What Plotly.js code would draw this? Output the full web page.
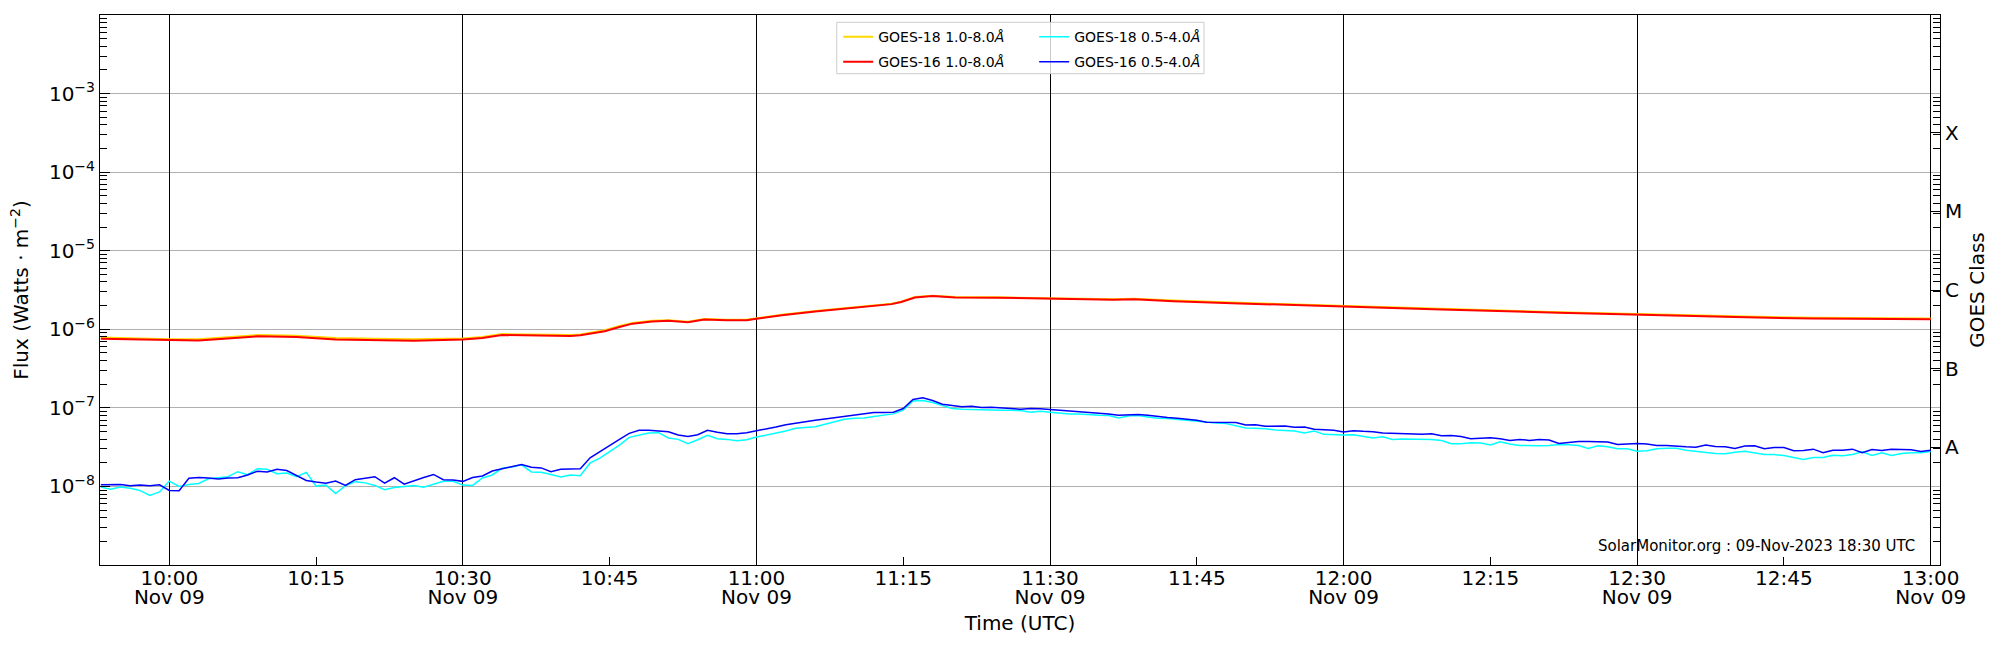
<!DOCTYPE html>
<html><head><meta charset="utf-8">
<script src="https://cdn.plot.ly/plotly-3.0.1.min.js"></script>
<style>body{margin:0;background:#fff}#chart{width:2000px;height:650px}</style>
</head><body><div id="chart"></div>
<script>
// ---- data ----
const shortStart = '2023-11-09 09:53';   // 1-minute samples for the 0.5-4.0 Å channels
const goes16Short = [
1.05e-8,1.05e-8,1.06e-8,1.02e-8,1.04e-8,1.02e-8,1.05e-8,0.89e-8,0.88e-8,1.27e-8,
1.30e-8,1.28e-8,1.24e-8,1.28e-8,1.29e-8,1.40e-8,1.56e-8,1.53e-8,1.65e-8,1.59e-8,
1.37e-8,1.19e-8,1.14e-8,1.10e-8,1.17e-8,1.03e-8,1.22e-8,1.28e-8,1.33e-8,1.10e-8,
1.29e-8,1.07e-8,1.19e-8,1.30e-8,1.42e-8,1.22e-8,1.21e-8,1.16e-8,1.30e-8,1.36e-8,
1.57e-8,1.67e-8,1.80e-8,1.90e-8,1.75e-8,1.72e-8,1.54e-8,1.65e-8,1.67e-8,1.68e-8,
2.31e-8,2.78e-8,3.36e-8,3.97e-8,4.73e-8,5.17e-8,5.17e-8,5.07e-8,4.97e-8,4.51e-8,
4.33e-8,4.55e-8,5.17e-8,4.88e-8,4.69e-8,4.69e-8,4.83e-8,5.12e-8,5.38e-8,5.71e-8,
6.11e-8,6.42e-8,6.61e-8,6.95e-8,7.23e-8,7.52e-8,7.89e-8,8.13e-8,8.54e-8,8.71e-8,
8.71e-8,8.79e-8,9.80e-8,1.28e-7,1.34e-7,1.24e-7,1.11e-7,1.06e-7,1.03e-7,1.05e-7,
1.01e-7,1.02e-7,1.01e-7,9.80e-8,9.61e-8,9.80e-8,9.71e-8,9.52e-8,9.33e-8,9.24e-8,
8.97e-8,8.88e-8,8.71e-8,8.38e-8,8.05e-8,8.21e-8,8.21e-8,8.05e-8,7.74e-8,7.52e-8,
7.37e-8,7.16e-8,6.95e-8,6.55e-8,6.49e-8,6.42e-8,6.49e-8,6.05e-8,6.11e-8,5.82e-8,
5.88e-8,5.88e-8,5.65e-8,5.71e-8,5.33e-8,5.22e-8,5.17e-8,4.92e-8,5.12e-8,5.02e-8,
4.97e-8,4.78e-8,4.73e-8,4.73e-8,4.69e-8,4.60e-8,4.69e-8,4.42e-8,4.46e-8,4.33e-8,
4.04e-8,4.13e-8,4.17e-8,4.04e-8,3.85e-8,3.97e-8,3.85e-8,3.97e-8,3.89e-8,3.52e-8,
3.63e-8,3.74e-8,3.74e-8,3.74e-8,3.67e-8,3.42e-8,3.46e-8,3.52e-8,3.46e-8,3.32e-8,
3.32e-8,3.29e-8,3.19e-8,3.16e-8,3.36e-8,3.22e-8,3.19e-8,3.04e-8,3.26e-8,3.29e-8,
3.01e-8,3.13e-8,3.13e-8,2.84e-8,2.87e-8,2.98e-8,2.68e-8,2.89e-8,2.89e-8,2.98e-8,
2.68e-8,2.95e-8,2.87e-8,2.98e-8,2.92e-8,2.92e-8,2.78e-8,2.89e-8];
const goes18Short = [
0.98e-8,0.92e-8,0.98e-8,0.95e-8,0.89e-8,0.77e-8,0.85e-8,1.17e-8,1.00e-8,1.06e-8,
1.09e-8,1.25e-8,1.29e-8,1.33e-8,1.54e-8,1.41e-8,1.68e-8,1.65e-8,1.45e-8,1.48e-8,
1.33e-8,1.51e-8,1.01e-8,1.04e-8,0.81e-8,1.02e-8,1.15e-8,1.11e-8,1.03e-8,0.91e-8,
0.97e-8,1.00e-8,1.03e-8,0.98e-8,1.07e-8,1.16e-8,1.16e-8,1.04e-8,1.03e-8,1.28e-8,
1.40e-8,1.70e-8,1.77e-8,1.88e-8,1.53e-8,1.51e-8,1.42e-8,1.32e-8,1.40e-8,1.37e-8,
1.99e-8,2.29e-8,2.78e-8,3.36e-8,4.21e-8,4.51e-8,4.78e-8,4.83e-8,4.13e-8,3.97e-8,
3.49e-8,3.93e-8,4.46e-8,4.04e-8,3.97e-8,3.81e-8,3.93e-8,4.25e-8,4.51e-8,4.69e-8,
5.07e-8,5.49e-8,5.65e-8,5.76e-8,6.17e-8,6.61e-8,7.16e-8,7.37e-8,7.44e-8,7.74e-8,
8.05e-8,8.38e-8,9.33e-8,1.22e-7,1.24e-7,1.17e-7,1.07e-7,9.80e-8,9.61e-8,9.52e-8,
9.43e-8,9.24e-8,9.33e-8,9.33e-8,9.24e-8,8.79e-8,9.06e-8,8.80e-8,8.54e-8,8.38e-8,
8.38e-8,8.13e-8,8.05e-8,7.97e-8,7.44e-8,7.89e-8,7.97e-8,7.67e-8,7.37e-8,7.30e-8,
7.09e-8,6.88e-8,6.75e-8,6.61e-8,6.42e-8,6.30e-8,5.88e-8,5.54e-8,5.49e-8,5.43e-8,
5.22e-8,5.12e-8,5.07e-8,4.78e-8,5.07e-8,4.60e-8,4.55e-8,4.51e-8,4.55e-8,4.33e-8,
4.13e-8,4.29e-8,3.97e-8,4.00e-8,4.00e-8,4.00e-8,3.97e-8,3.85e-8,3.49e-8,3.49e-8,
3.59e-8,3.56e-8,3.36e-8,3.70e-8,3.46e-8,3.32e-8,3.29e-8,3.29e-8,3.32e-8,3.42e-8,
3.39e-8,3.32e-8,3.04e-8,3.29e-8,3.19e-8,3.01e-8,3.01e-8,2.81e-8,2.84e-8,3.01e-8,
3.07e-8,3.07e-8,2.89e-8,2.81e-8,2.68e-8,2.62e-8,2.60e-8,2.73e-8,2.80e-8,2.68e-8,
2.55e-8,2.55e-8,2.47e-8,2.33e-8,2.20e-8,2.33e-8,2.33e-8,2.50e-8,2.45e-8,2.55e-8,
2.76e-8,2.47e-8,2.68e-8,2.47e-8,2.62e-8,2.68e-8,2.68e-8,2.78e-8];

const longTimes = ['09:53:00','10:00:00','10:03:00','10:09:00','10:13:00','10:17:00','10:21:00','10:25:00',
 '10:30:00','10:32:00','10:34:00','10:38:00','10:41:00','10:42:00','10:44:30','10:46:00','10:47:20',
 '10:49:20','10:51:00','10:53:00','10:54:40','10:57:00','10:59:00','11:00:00','11:02:36','11:06:00',
 '11:09:24','11:13:48','11:14:48','11:16:12','11:18:00','11:20:18','11:24:42','11:28:30','11:30:00',
 '11:36:30','11:38:36','11:42:36','11:49:24','12:00:00','12:10:00','12:22:00','12:30:00','12:40:00',
 '12:48:00','13:00:00'];
const goes16Long = [7.58e-7,7.22e-7,7.22e-7,8.13e-7,7.96e-7,7.44e-7,7.29e-7,7.15e-7,
 7.44e-7,7.73e-7,8.45e-7,8.29e-7,8.21e-7,8.37e-7,9.42e-7,1.07e-6,1.18e-6,
 1.26e-6,1.28e-6,1.23e-6,1.33e-6,1.30e-6,1.30e-6,1.36e-6,1.51e-6,1.68e-6,
 1.86e-6,2.09e-6,2.22e-6,2.54e-6,2.65e-6,2.54e-6,2.52e-6,2.47e-6,2.45e-6,
 2.38e-6,2.42e-6,2.28e-6,2.13e-6,1.93e-6,1.79e-6,1.62e-6,1.52e-6,1.43e-6,
 1.37e-6,1.34e-6];
const goes18Long = [7.85e-7,7.45e-7,7.45e-7,8.45e-7,8.25e-7,7.75e-7,7.60e-7,7.45e-7,
 7.65e-7,7.95e-7,8.70e-7,8.55e-7,8.45e-7,8.60e-7,9.70e-7,1.10e-6,1.20e-6,
 1.28e-6,1.30e-6,1.25e-6,1.35e-6,1.32e-6,1.32e-6,1.38e-6,1.53e-6,1.71e-6,
 1.89e-6,2.12e-6,2.25e-6,2.57e-6,2.68e-6,2.57e-6,2.55e-6,2.50e-6,2.48e-6,
 2.41e-6,2.45e-6,2.32e-6,2.17e-6,1.97e-6,1.82e-6,1.65e-6,1.55e-6,1.46e-6,
 1.40e-6,1.37e-6];

const xTickTimes = ['10:00','10:15','10:30','10:45','11:00','11:15','11:30','11:45','12:00','12:15','12:30','12:45','13:00'];
const dateTickTimes = ['10:00','10:30','11:00','11:30','12:00','12:30','13:00'];
const dateLabel = 'Nov 09';
const yTickPowers = [-8,-7,-6,-5,-4,-3];
const classLabels = ['A','B','C','M','X'];
const classFlux = [3.16e-8,3.16e-7,3.16e-6,3.16e-5,3.16e-4];
const day = '2023-11-09 ';

// ---- build ----
function pad(n){return (n<10?'0':'')+n;}
const shortTimes = goes16Short.map((_,i)=>{
  const base = 9*60+53 + i;
  return day + pad(Math.floor(base/60)) + ':' + pad(base%60);
});
const longX = longTimes.map(t=>day+t);

const minorVals = [];
for (let e=-9; e<-2; e++) for (let m=2; m<=9; m++) minorVals.push(m*Math.pow(10,e));

const FONT = 'DejaVu Sans';
const xRange = [day+'09:52:55', day+'13:00:57'];
const yRange = [-9,-2];

const traces = [
 {x:longX, y:goes18Long, name:'GOES-18 1.0-8.0<i>Å</i>', mode:'lines', line:{color:'#FFD700',width:2}, legend:'legend', legendgroup:'a'},
 {x:longX, y:goes16Long, name:'GOES-16 1.0-8.0<i>Å</i>', mode:'lines', line:{color:'#FF0000',width:2}, legend:'legend', legendgroup:'b'},
 {x:shortTimes, y:goes18Short, name:'GOES-18 0.5-4.0<i>Å</i>', mode:'lines', line:{color:'#00FFFF',width:1.5}, legend:'legend2', legendgroup:'c'},
 {x:shortTimes, y:goes16Short, name:'GOES-16 0.5-4.0<i>Å</i>', mode:'lines', line:{color:'#0000FF',width:1.5}, legend:'legend2', legendgroup:'d'},
 {x:[], y:[], xaxis:'x2', yaxis:'y', showlegend:false, hoverinfo:'skip'},
 {x:[], y:[], xaxis:'x', yaxis:'y2', showlegend:false, hoverinfo:'skip'}
];

const legendCommon = {bgcolor:'rgba(0,0,0,0)', borderwidth:0, font:{family:FONT,size:14,color:'#000'},
  xanchor:'left', yanchor:'top', orientation:'v', tracegroupgap:4, itemwidth:30};

const layout = {
  width:2000, height:650,
  margin:{l:100, r:60, t:15, b:85, pad:0},
  paper_bgcolor:'#fff', plot_bgcolor:'#fff',
  font:{family:FONT, size:20, color:'#000'},
  showlegend:true,
  legend:Object.assign({x:0.4012, y:0.989}, legendCommon),
  legend2:Object.assign({x:0.5077, y:0.989}, legendCommon),
  xaxis:{type:'date', range:xRange, tickmode:'array',
    tickvals:xTickTimes.map(t=>day+t), ticktext:xTickTimes,
    ticks:'inside', ticklen:8, tickwidth:1, tickcolor:'#000',
    showgrid:false, zeroline:false, showline:true, linecolor:'#000', linewidth:1, mirror:true,
    ticklabelstandoff:-5,
    tickfont:{family:FONT,size:20,color:'#000'},
    title:{text:'Time (UTC)', font:{family:FONT,size:20,color:'#000'}, standoff:26}},
  xaxis2:{type:'date', range:xRange, overlaying:'x', side:'bottom', tickmode:'array',
    tickvals:dateTickTimes.map(t=>day+t), ticktext:dateTickTimes.map(()=>dateLabel),
    ticks:'', showgrid:true, gridcolor:'#000', gridwidth:1, zeroline:false, showline:false,
    ticklabelstandoff:18,
    tickfont:{family:FONT,size:20,color:'#000'}},
  yaxis:{type:'log', range:yRange, tickmode:'array',
    tickvals:yTickPowers.map(p=>Math.pow(10,p)),
    ticktext:yTickPowers.map(p=>'10<sup>−'+Math.abs(p)+'</sup>'),
    ticks:'inside', ticklen:10, tickwidth:1, tickcolor:'#000',
    minor:{tickmode:'array', tickvals:minorVals, ticks:'inside', ticklen:7, tickwidth:1, tickcolor:'#000', showgrid:false},
    showgrid:true, gridcolor:'#b0b0b0', gridwidth:1, zeroline:false,
    showline:true, linecolor:'#000', linewidth:1, mirror:true,
    tickfont:{family:FONT,size:20,color:'#000'},
    title:{text:'Flux (Watts · m<sup>−2</sup>)', font:{family:FONT,size:20,color:'#000'}, standoff:14}},
  yaxis2:{type:'log', range:yRange, overlaying:'y', side:'right', tickmode:'array',
    tickvals:classFlux, ticktext:classLabels,
    ticks:'inside', ticklen:10, tickwidth:1, tickcolor:'#000',
    minor:{tickmode:'array', tickvals:minorVals, ticks:'inside', ticklen:7, tickwidth:1, tickcolor:'#000', showgrid:false},
    showgrid:false, zeroline:false, showline:false,
    ticklabelstandoff:4,
    tickfont:{family:FONT,size:20,color:'#000'},
    title:{text:'GOES Class', font:{family:FONT,size:20,color:'#000'}, standoff:8}},
  shapes:[
    {type:'rect', xref:'paper', yref:'paper', x0:0.4004, x1:0.6, y0:0.8933, y1:0.9867,
     fillcolor:'rgba(255,255,255,0.8)', line:{color:'#cccccc', width:1}, layer:'above'}
  ],
  annotations:[
    {xref:'paper', yref:'paper', x:0.9875, y:0.034, xanchor:'right', yanchor:'middle',
     text:'SolarMonitor.org : 09-Nov-2023 18:30 UTC', showarrow:false,
     font:{family:FONT,size:15,color:'#000'}}
  ]
};

Plotly.newPlot('chart', traces, layout, {displayModeBar:false, staticPlot:true});
</script>
</body></html>
